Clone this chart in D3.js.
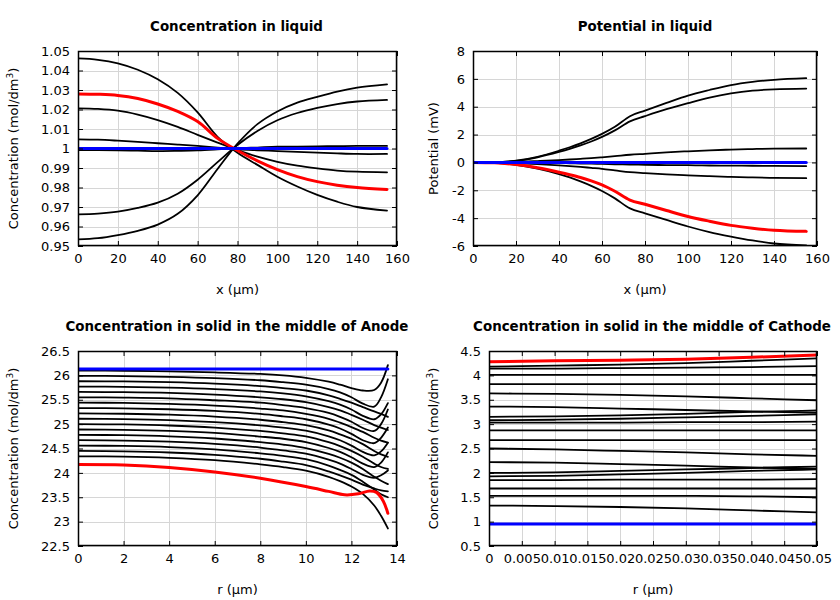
<!DOCTYPE html>
<html><head><meta charset="utf-8">
<script src="https://cdn.jsdelivr.net/npm/d3@7"></script>
<style>
body{margin:0;background:#fff;}
text{font-family:"DejaVu Sans",sans-serif;fill:#000;}
</style></head>
<body>
<svg id="c" width="840" height="600"></svg>
<script>
// ---------------- DATA ----------------
// Panel 1: Concentration in liquid
const liqX = [0, 10, 20, 30, 40, 50, 60, 70, 80, 90, 100, 110, 120, 130, 140, 155];
const liqConcBlack = [
  [1.0462, 1.0455, 1.0437, 1.0404, 1.0355, 1.0285, 1.0185, 1.0060, 0.9978, 0.9916, 0.9855, 0.9805, 0.9762, 0.9727, 0.9700, 0.9681],
  [1.0206, 1.0203, 1.0194, 1.0174, 1.0146, 1.0111, 1.0070, 1.0030, 0.9992, 0.9958, 0.9932, 0.9912, 0.9898, 0.9887, 0.9881, 0.9878],
  [1.0047, 1.0045, 1.0040, 1.0034, 1.0027, 1.0020, 1.0013, 1.0005, 0.9996, 0.9991, 0.9987, 0.9983, 0.9979, 0.9975, 0.9972, 0.9972],
  [0.9992, 0.9992, 0.9991, 0.9989, 0.9987, 0.9988, 0.9990, 0.9995, 1.0001, 1.0005, 1.0009, 1.0010, 1.0011, 1.0012, 1.0013, 1.0013],
  [0.9662, 0.9666, 0.9676, 0.9695, 0.9722, 0.9768, 0.9840, 0.9930, 1.0018, 1.0090, 1.0145, 1.0182, 1.0208, 1.0228, 1.0241, 1.0249],
  [0.9534, 0.9540, 0.9556, 0.9578, 0.9610, 0.9665, 0.9760, 0.9895, 1.0025, 1.0125, 1.0190, 1.0235, 1.0265, 1.0292, 1.0312, 1.0329]
];
const liqConcRed  = [1.0280, 1.0278, 1.0272, 1.0256, 1.0228, 1.0190, 1.0138, 1.0052, 0.9990, 0.9937, 0.9892, 0.9856, 0.9830, 0.9812, 0.9800, 0.9790];
const liqConcBlue = [1, 1, 1, 1, 1, 1, 1, 1, 1, 1, 1, 1, 1, 1, 1, 1];

// Panel 2: Potential in liquid
const potX = [0, 10, 20, 30, 40, 45, 50, 55, 60, 66, 73, 80, 90, 100, 110, 120, 130, 140, 155];
const potBlack = [
  [0, 0.02, 0.12, 0.40, 0.84, 1.09, 1.37, 1.69, 2.05, 2.56, 3.32, 3.72, 4.27, 4.80, 5.20, 5.55, 5.78, 5.93, 6.05],
  [0, 0.02, 0.11, 0.37, 0.75, 0.97, 1.22, 1.50, 1.83, 2.30, 2.95, 3.32, 3.82, 4.25, 4.65, 4.95, 5.15, 5.25, 5.30],
  [0, 0.01, 0.04, 0.10, 0.17, 0.21, 0.26, 0.31, 0.37, 0.45, 0.55, 0.62, 0.72, 0.80, 0.87, 0.92, 0.96, 0.99, 1.00],
  [0, 0.00, -0.01, -0.03, -0.05, -0.06, -0.08, -0.09, -0.11, -0.13, -0.15, -0.17, -0.19, -0.20, -0.22, -0.23, -0.24, -0.25, -0.26],
  [0, -0.01, -0.05, -0.12, -0.21, -0.26, -0.32, -0.39, -0.46, -0.57, -0.70, -0.77, -0.86, -0.93, -0.99, -1.04, -1.08, -1.11, -1.13],
  [0, -0.03, -0.18, -0.45, -0.84, -1.08, -1.36, -1.68, -2.05, -2.58, -3.30, -3.65, -4.13, -4.60, -5.00, -5.32, -5.60, -5.82, -5.95]
];
const potRed  = [0, -0.03, -0.15, -0.38, -0.70, -0.88, -1.08, -1.32, -1.61, -2.07, -2.70, -3.00, -3.45, -3.88, -4.22, -4.52, -4.72, -4.87, -4.95];
const potBlue = [0, 0, 0, 0, 0, 0, 0, 0, 0, 0, 0, 0, 0, 0, 0, 0, 0, 0, 0];

// Panel 3: Concentration in solid, anode
const anodeR = [0, 2, 4, 6, 8, 9, 10, 11, 11.5, 12, 12.5, 13, 13.3, 13.6];
const anodeBlack = [
  [26.10, 26.095, 26.080, 26.060, 26.030, 26.00, 25.950, 25.870, 25.81, 25.74, 25.69, 25.70, 25.85, 26.21],
  [25.99, 25.985, 25.970, 25.945, 25.900, 25.86, 25.810, 25.720, 25.65, 25.55, 25.42, 25.36, 25.55, 25.92],
  [25.88, 25.875, 25.860, 25.830, 25.780, 25.74, 25.690, 25.590, 25.52, 25.44, 25.35, 25.26, 25.21, 25.15],
  [25.77, 25.765, 25.750, 25.720, 25.670, 25.63, 25.570, 25.470, 25.40, 25.30, 25.17, 25.10, 25.20, 25.43],
  [25.66, 25.655, 25.640, 25.605, 25.550, 25.51, 25.450, 25.350, 25.28, 25.19, 25.09, 24.98, 24.93, 24.88],
  [25.55, 25.545, 25.530, 25.490, 25.440, 25.39, 25.330, 25.230, 25.15, 25.05, 24.92, 24.86, 25.00, 25.30],
  [25.44, 25.435, 25.415, 25.380, 25.320, 25.28, 25.210, 25.110, 25.03, 24.94, 24.84, 24.72, 24.66, 24.62],
  [25.33, 25.325, 25.305, 25.270, 25.210, 25.16, 25.100, 24.990, 24.91, 24.80, 24.67, 24.61, 24.72, 24.93],
  [25.22, 25.213, 25.194, 25.155, 25.090, 25.04, 24.980, 24.870, 24.79, 24.70, 24.59, 24.45, 24.38, 24.33],
  [25.11, 25.103, 25.083, 25.040, 24.975, 24.93, 24.865, 24.750, 24.67, 24.56, 24.43, 24.36, 24.44, 24.62],
  [25.00, 24.993, 24.972, 24.930, 24.860, 24.81, 24.750, 24.630, 24.55, 24.45, 24.33, 24.19, 24.12, 24.08],
  [24.89, 24.883, 24.861, 24.820, 24.745, 24.70, 24.630, 24.510, 24.43, 24.32, 24.19, 24.12, 24.21, 24.42],
  [24.78, 24.773, 24.750, 24.705, 24.630, 24.58, 24.510, 24.390, 24.31, 24.21, 24.08, 23.92, 23.84, 23.77],
  [24.67, 24.662, 24.640, 24.595, 24.520, 24.46, 24.395, 24.270, 24.19, 24.08, 23.96, 23.90, 23.95, 24.05],
  [24.56, 24.552, 24.530, 24.480, 24.400, 24.35, 24.280, 24.150, 24.06, 23.96, 23.82, 23.66, 23.56, 23.50],
  [24.45, 24.442, 24.418, 24.370, 24.290, 24.23, 24.160, 24.030, 23.95, 23.86, 23.76, 23.68, 23.64, 23.62],
  [24.34, 24.332, 24.307, 24.260, 24.175, 24.12, 24.045, 23.920, 23.83, 23.72, 23.57, 23.33, 23.12, 22.86]
];
const anodeRedR = [0, 2, 4, 6, 8, 10, 11, 11.7, 12.3, 12.8, 13.1, 13.4, 13.6];
const anodeRed  = [24.17, 24.16, 24.11, 24.02, 23.89, 23.72, 23.62, 23.55, 23.57, 23.63, 23.60, 23.42, 23.17];
const anodeBlueR = [0, 13.6];
const anodeBlue  = [26.13, 26.13];

// Panel 4: Concentration in solid, cathode
const cathR = [0, 0.01, 0.02, 0.03, 0.04, 0.05];
const cathBlack = [
  [4.18, 4.20, 4.22, 4.25, 4.30, 4.35],
  [4.14, 4.14, 4.15, 4.16, 4.17, 4.19],
  [4.01, 4.01, 4.01, 4.01, 4.01, 4.01],
  [3.82, 3.82, 3.82, 3.82, 3.82, 3.82],
  [3.63, 3.62, 3.60, 3.57, 3.53, 3.49],
  [3.36, 3.35, 3.32, 3.29, 3.26, 3.23],
  [3.15, 3.16, 3.18, 3.21, 3.25, 3.28],
  [3.08, 3.09, 3.11, 3.14, 3.17, 3.20],
  [3.03, 3.03, 3.03, 3.04, 3.04, 3.05],
  [2.87, 2.87, 2.87, 2.87, 2.87, 2.87],
  [2.67, 2.67, 2.67, 2.67, 2.67, 2.67],
  [2.50, 2.48, 2.45, 2.42, 2.38, 2.35],
  [2.22, 2.21, 2.18, 2.15, 2.11, 2.08],
  [2.00, 2.01, 2.04, 2.07, 2.10, 2.13],
  [1.93, 1.94, 1.97, 2.00, 2.04, 2.07],
  [1.85, 1.85, 1.86, 1.86, 1.86, 1.87],
  [1.68, 1.68, 1.68, 1.68, 1.68, 1.68],
  [1.53, 1.53, 1.53, 1.53, 1.52, 1.50],
  [1.33, 1.32, 1.30, 1.27, 1.23, 1.19]
];
const cathRed  = [4.28, 4.30, 4.31, 4.33, 4.37, 4.42];
const cathBlue = [0.95, 0.95, 0.95, 0.95, 0.95, 0.95];

// Ticks and labels
const titles = ["Concentration in liquid", "Potential in liquid",
  "Concentration in solid in the middle of Anode", "Concentration in solid in the middle of Cathode"];
const xTicksLiq = [0, 20, 40, 60, 80, 100, 120, 140, 160];
const yTicksConc = [0.95, 0.96, 0.97, 0.98, 0.99, 1.0, 1.01, 1.02, 1.03, 1.04, 1.05];
const yTicksPot = [-6, -4, -2, 0, 2, 4, 6, 8];
const xTicksAnode = [0, 2, 4, 6, 8, 10, 12, 14];
const yTicksAnode = [22.5, 23, 23.5, 24, 24.5, 25, 25.5, 26, 26.5];
const xTicksCath = [0, 0.005, 0.01, 0.015, 0.02, 0.025, 0.03, 0.035, 0.04, 0.045, 0.05];
const yTicksCath = [0.5, 1, 1.5, 2, 2.5, 3, 3.5, 4, 4.5];

// ---------------- DRAW ----------------
const svg = d3.select("#c");
const fmt = d => String(+d.toFixed(3));

function panel(cfg, idx) {
  const {l, r, t, b} = cfg.box;
  const x = d3.scaleLinear().domain(cfg.xd).range([l, r]);
  const y = d3.scaleLinear().domain(cfg.yd).range([b, t]);
  const g = svg.append("g");
  const cid = "clip" + idx;
  g.append("clipPath").attr("id", cid).append("rect")
    .attr("x", l).attr("y", t).attr("width", r - l).attr("height", b - t);

  // grid
  const grid = g.append("g").attr("stroke", "#d6d6d6").attr("stroke-width", 1);
  cfg.xt.forEach(v => grid.append("line").attr("x1", Math.round(x(v)) + 0.5).attr("x2", Math.round(x(v)) + 0.5).attr("y1", t).attr("y2", b));
  cfg.yt.forEach(v => grid.append("line").attr("y1", Math.round(y(v)) + 0.5).attr("y2", Math.round(y(v)) + 0.5).attr("x1", l).attr("x2", r));

  // lines
  const lg = g.append("g").attr("clip-path", `url(#${cid})`).attr("fill", "none")
    .attr("stroke-linejoin", "round").attr("stroke-linecap", "round");
  const line = (xs) => d3.line().x((d, i) => x(xs[i])).y(d => y(d)).curve(cfg.curve);
  cfg.black.forEach(s => lg.append("path").attr("d", line(cfg.bx)(s)).attr("stroke", "#000").attr("stroke-width", 1.8));
  lg.append("path").attr("d", line(cfg.rx)(cfg.red)).attr("stroke", "#ff0000").attr("stroke-width", 3);
  lg.append("path").attr("d", line(cfg.blx)(cfg.blue)).attr("stroke", "#0000ff").attr("stroke-width", 3);

  // axes
  const styleAxis = sel => { sel.select(".domain").remove(); sel.selectAll("line").attr("stroke", "#000"); sel.selectAll("text").attr("font-size", 13).attr("font-family", "DejaVu Sans").attr("fill", "#000"); };
  g.append("g").attr("transform", `translate(0,${b})`)
    .call(d3.axisBottom(x).tickValues(cfg.xt).tickFormat(fmt).tickSize(-5).tickPadding(8)).call(styleAxis);
  g.append("g").attr("transform", `translate(0,${t})`)
    .call(d3.axisTop(x).tickValues(cfg.xt).tickFormat("").tickSize(-5)).call(styleAxis);
  g.append("g").attr("transform", `translate(${l},0)`)
    .call(d3.axisLeft(y).tickValues(cfg.yt).tickFormat(fmt).tickSize(-5).tickPadding(8)).call(styleAxis);
  g.append("g").attr("transform", `translate(${r},0)`)
    .call(d3.axisRight(y).tickValues(cfg.yt).tickFormat("").tickSize(-5)).call(styleAxis);

  // frame
  g.append("rect").attr("x", l + 0.5).attr("y", t + 0.5).attr("width", r - l - 1).attr("height", b - t - 1)
    .attr("fill", "none").attr("stroke", "#000").attr("stroke-width", 1.5);

  // title
  g.append("text").attr("x", cfg.tx).attr("y", t - 20).attr("text-anchor", "middle")
    .attr("font-size", 13.4).attr("font-weight", "bold").text(cfg.title);
  // x label
  g.append("text").attr("x", (l + r) / 2).attr("y", b + 48).attr("text-anchor", "middle")
    .attr("font-size", 13).text(cfg.xl);
  // y label
  const yl = g.append("text").attr("transform", `translate(${cfg.ylx},${(t + b) / 2}) rotate(-90)`)
    .attr("text-anchor", "middle").attr("font-size", 13);
  if (cfg.conc) {
    yl.append("tspan").text("Concentration (mol/dm");
    yl.append("tspan").attr("dy", -5).attr("font-size", 9).text("3");
    yl.append("tspan").attr("dy", 5).text(")");
  } else {
    yl.text(cfg.yl);
  }
}

const smooth = d3.curveCatmullRom.alpha(0.5);
panel({box: {l: 78, r: 397, t: 51, b: 246}, xd: [0, 160], yd: [0.95, 1.05], xt: xTicksLiq, yt: yTicksConc,
  bx: liqX, black: liqConcBlack, rx: liqX, red: liqConcRed, blx: liqX, blue: liqConcBlue, curve: smooth,
  title: titles[0], tx: 236.5, xl: "x (\u00b5m)", conc: true, ylx: 18}, 0);
panel({box: {l: 473, r: 817, t: 51, b: 246}, xd: [0, 160], yd: [-6, 8], xt: xTicksLiq, yt: yTicksPot,
  bx: potX, black: potBlack, rx: potX, red: potRed, blx: potX, blue: potBlue, curve: d3.curveMonotoneX,
  title: titles[1], tx: 645, xl: "x (\u00b5m)", yl: "Potential (mV)", ylx: 438}, 1);
panel({box: {l: 78, r: 397, t: 351, b: 546}, xd: [0, 14], yd: [22.5, 26.5], xt: xTicksAnode, yt: yTicksAnode,
  bx: anodeR, black: anodeBlack, rx: anodeRedR, red: anodeRed, blx: anodeBlueR, blue: anodeBlue, curve: smooth,
  title: titles[2], tx: 237, xl: "r (\u00b5m)", conc: true, ylx: 18}, 2);
panel({box: {l: 489, r: 817, t: 351, b: 546}, xd: [0, 0.05], yd: [0.5, 4.5], xt: xTicksCath, yt: yTicksCath,
  bx: cathR, black: cathBlack, rx: cathR, red: cathRed, blx: cathR, blue: cathBlue, curve: d3.curveMonotoneX,
  title: titles[3], tx: 652, xl: "r (\u00b5m)", conc: true, ylx: 438}, 3);
</script>
</body></html>
